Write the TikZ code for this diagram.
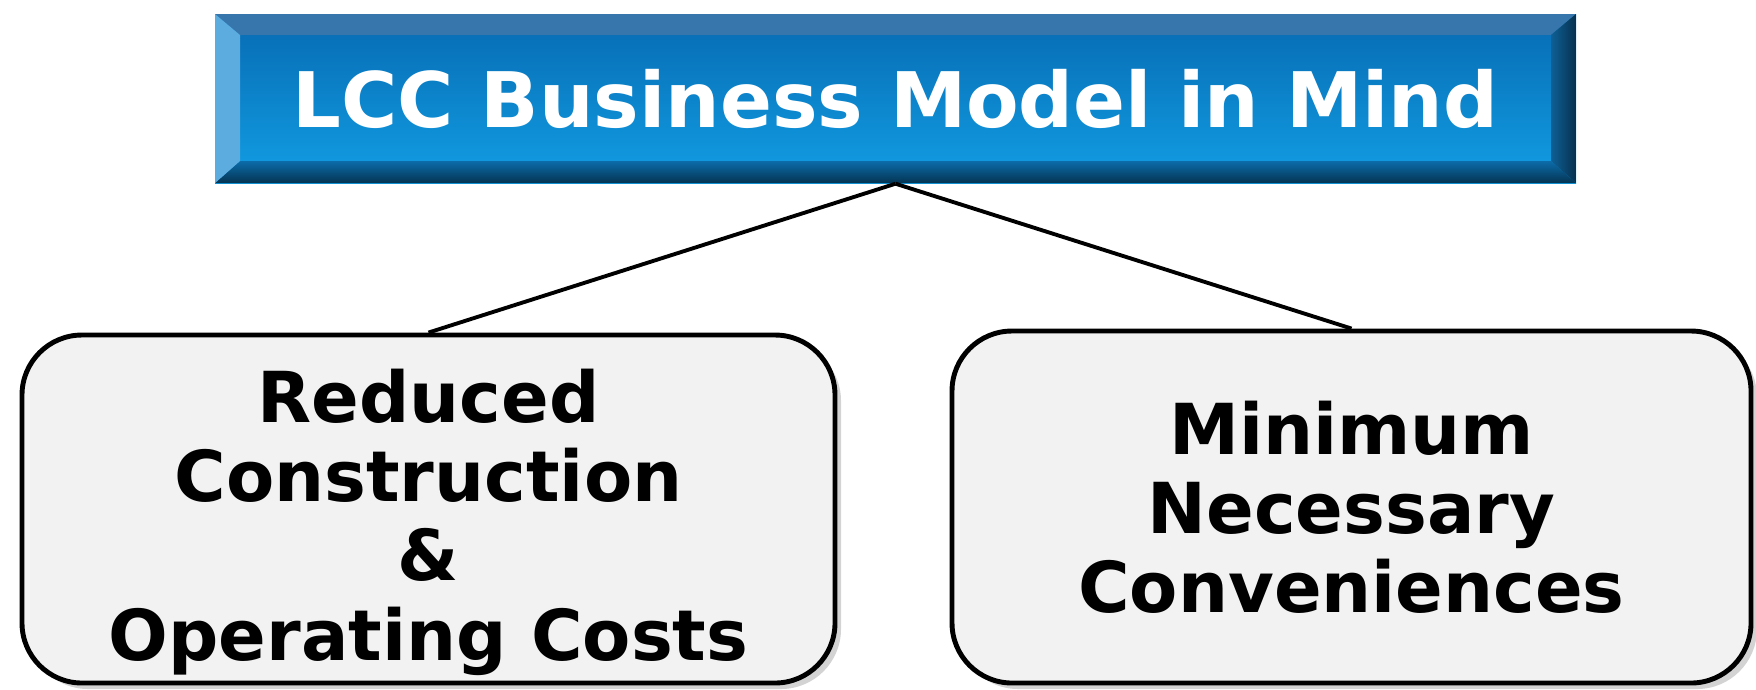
\documentclass[tikz,border=0pt]{standalone}
\usepackage{fontspec}
\setsansfont{DejaVu Sans}
\usepackage{tikz}
\usetikzlibrary{calc,positioning,shadows}
\definecolor{faceTop}{RGB}{6,106,178}
\definecolor{faceBot}{RGB}{18,158,228}
\definecolor{bevelTop}{RGB}{54,118,172}
\definecolor{bevelLeft}{RGB}{92,172,224}
\definecolor{bevelRightA}{RGB}{14,96,150}
\definecolor{bevelRightB}{RGB}{6,48,78}
\definecolor{bevelBotA}{RGB}{12,108,170}
\definecolor{bevelBotB}{RGB}{4,52,82}
\definecolor{boxGrey}{RGB}{242,242,242}
\tikzstyle{branch} = [line width=1.1pt, black]
\tikzstyle{pillar} = [rectangle, rounded corners=0.6cm, draw=black, line width=1.4pt, fill=boxGrey, align=center, inner sep=0pt, font=\sffamily\bfseries\fontsize{20}{22.5}\selectfont, drop shadow={shadow xshift=0.6mm, shadow yshift=-0.6mm, opacity=0.35}]
\newcommand{\firstline}{\rule{0pt}{8mm}}

\begin{document}
\begin{tikzpicture}[
		headline/.style={rectangle, minimum width=13.61cm, minimum height=1.69cm, inner sep=0pt, text=white,
				font=\sffamily\bfseries\fontsize{21.8}{26}\selectfont, top color=faceTop, bottom color=faceBot,
				path picture={
						\coordinate (nw) at (path picture bounding box.north west);
						\coordinate (ne) at (path picture bounding box.north east);
						\coordinate (sw) at (path picture bounding box.south west);
						\coordinate (se) at (path picture bounding box.south east);
						\fill[bevelTop] (nw) -- (ne) -- ($(ne)+(-0.25,-0.21)$) -- ($(nw)+(0.25,-0.21)$) -- cycle;
						\shade[top color=bevelBotA, bottom color=bevelBotB] (sw) -- (se) -- ($(se)+(-0.25,0.22)$) -- ($(sw)+(0.25,0.22)$) -- cycle;
						\fill[bevelLeft] (nw) -- ($(nw)+(0.25,-0.21)$) -- ($(sw)+(0.25,0.22)$) -- (sw) -- cycle;
						\shade[left color=bevelRightA, right color=bevelRightB] (ne) -- ($(ne)+(-0.25,-0.21)$) -- ($(se)+(-0.25,0.22)$) -- (se) -- cycle;
					}}]

	\useasboundingbox (0,0) rectangle (17.56,-6.89);

	\node[headline] (model) at (8.955,-0.985) {LCC Business Model in Mind};

	\node[pillar, minimum width=8.13cm, minimum height=3.48cm] (costs) at (4.285,-5.09)
	{\firstline Reduced\\Construction\\\&\\Operating Costs};
	\node[pillar, minimum width=7.99cm, minimum height=3.52cm] (comfort) at (13.515,-5.07)
	{Minimum\\Necessary\\Conveniences};

	\draw[branch] (model.south) -- (costs.north);
	\draw[branch] (model.south) -- (comfort.north);
\end{tikzpicture}
\end{document}
